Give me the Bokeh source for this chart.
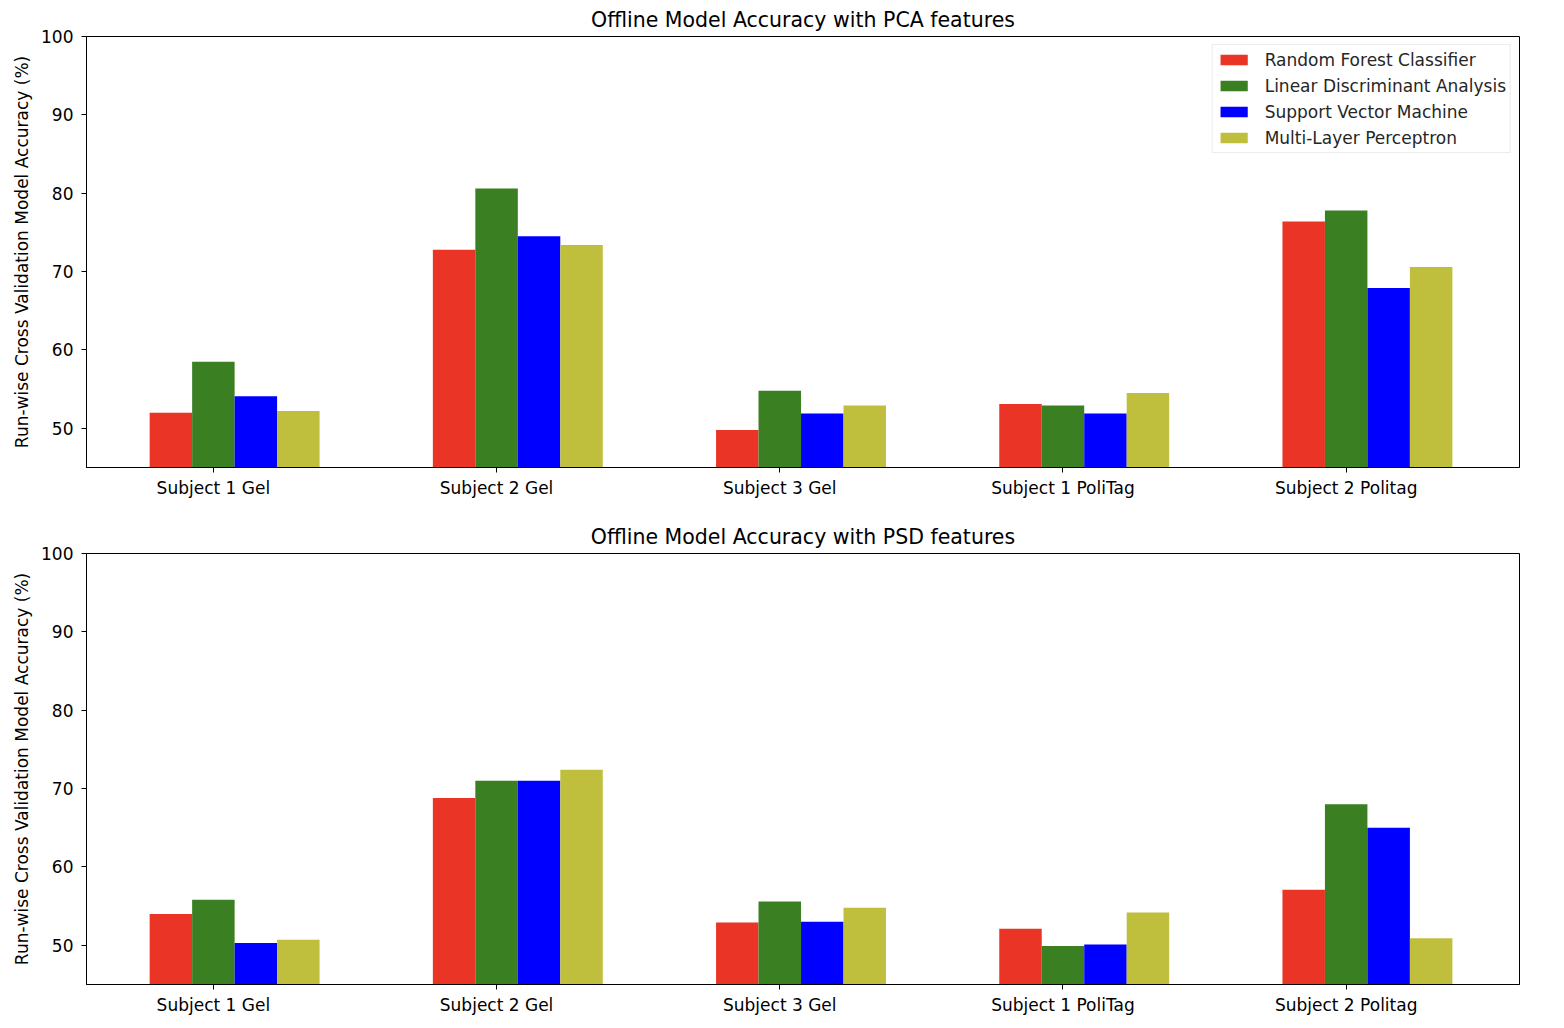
from bokeh.plotting import figure
from bokeh.models import ColumnDataSource, FixedTicker, Legend, LegendItem, Range1d
from bokeh.transform import dodge
from bokeh.layouts import column
from bokeh.embed import file_html
from bokeh.resources import INLINE

categories = ["Subject 1 Gel", "Subject 2 Gel", "Subject 3 Gel", "Subject 1 PoliTag", "Subject 2 Politag"]
models = ["Random Forest Classifier", "Linear Discriminant Analysis", "Support Vector Machine", "Multi-Layer Perceptron"]
colors = ["#e93426", "#3a7f22", "#0000ff", "#c0bf3d"]

pca_rf = [52.0, 72.8, 49.8, 53.1, 76.4]
pca_lda = [58.5, 80.6, 54.8, 52.9, 77.8]
pca_svm = [54.1, 74.5, 51.9, 51.9, 67.9]
pca_mlp = [52.2, 73.4, 52.9, 54.5, 70.6]

psd_rf = [54.0, 68.8, 52.9, 52.1, 57.1]
psd_lda = [55.8, 71.0, 55.6, 49.9, 68.0]
psd_svm = [50.3, 71.0, 53.0, 50.1, 65.0]
psd_mlp = [50.7, 72.4, 54.8, 54.2, 50.9]

y_ticks = [50, 60, 70, 80, 90, 100]
y_label = "Run-wise Cross Validation Model Accuracy (%)"
FONT = "DejaVu Sans"

offsets = [-0.15, 0.0, 0.15, 0.30]
bar_w = 0.15


def make_plot(title, series, show_legend, top_border, bottom_border):
    src = ColumnDataSource(dict(x=list(range(len(categories))),
                                s0=series[0], s1=series[1], s2=series[2], s3=series[3]))
    p = figure(output_backend="svg", toolbar_location=None,
               frame_width=1433, frame_height=431,
               x_range=Range1d(-0.448, 4.612), y_range=Range1d(45, 100),
               title=title,
               min_border_left=86, min_border_right=29,
               min_border_top=top_border, min_border_bottom=bottom_border)
    p.background_fill_color = "white"
    p.border_fill_color = "white"
    p.outline_line_color = "black"
    p.outline_line_width = 1
    p.xgrid.visible = False
    p.ygrid.visible = False

    p.title.text_font = FONT
    p.title.text_font_size = "20.5px"
    p.title.text_font_style = "normal"
    p.title.align = "center"
    p.title.text_color = "black"
    p.title.standoff = 10

    renderers = []
    for k in range(4):
        r = p.vbar(x=dodge("x", offsets[k], range=p.x_range), top="s%d" % k, bottom=0,
                   width=bar_w, source=src, fill_color=colors[k], line_color=None)
        renderers.append(r)

    xa = p.xaxis[0]
    xa.ticker = FixedTicker(ticks=list(range(len(categories))))
    xa.major_label_overrides = {i: c for i, c in enumerate(categories)}
    xa.minor_tick_line_color = None
    xa.major_tick_out = 5
    xa.major_tick_in = 0
    xa.major_label_standoff = 5
    xa.major_label_text_font = FONT
    xa.major_label_text_font_size = "17px"
    xa.major_label_text_color = "black"
    xa.axis_line_color = "black"

    ya = p.yaxis[0]
    ya.ticker = FixedTicker(ticks=y_ticks)
    ya.minor_tick_line_color = None
    ya.major_tick_out = 5
    ya.major_tick_in = 0
    ya.major_label_standoff = 8
    ya.major_label_text_font = FONT
    ya.major_label_text_font_size = "17px"
    ya.major_label_text_color = "black"
    ya.axis_label = y_label
    ya.axis_label_text_font = FONT
    ya.axis_label_text_font_size = "17px"
    ya.axis_label_text_font_style = "normal"
    ya.axis_label_text_color = "black"
    ya.axis_label_standoff = 6
    ya.axis_line_color = "black"

    if show_legend:
        legend = Legend(items=[LegendItem(label=models[k], renderers=[renderers[k]]) for k in range(4)],
                        location="top_right")
        legend.label_text_font = FONT
        legend.label_text_font_size = "17px"
        legend.label_text_color = "#262626"
        legend.glyph_width = 34
        legend.glyph_height = 13
        legend.label_height = 21
        legend.spacing = 5
        legend.padding = 4
        legend.margin = 8
        legend.label_standoff = 14
        legend.border_line_color = "#d9d9d9"
        legend.border_line_width = 1
        legend.background_fill_alpha = 0.8
        p.add_layout(legend, "center")
    return p


p1 = make_plot("Offline Model Accuracy with PCA features", [pca_rf, pca_lda, pca_svm, pca_mlp], True, 36, 43)
p2 = make_plot("Offline Model Accuracy with PSD features", [psd_rf, psd_lda, psd_svm, psd_mlp], False, 43, 36)

layout = column(p1, p2, spacing=0)
open("out.html", "w").write(file_html(layout, INLINE))
